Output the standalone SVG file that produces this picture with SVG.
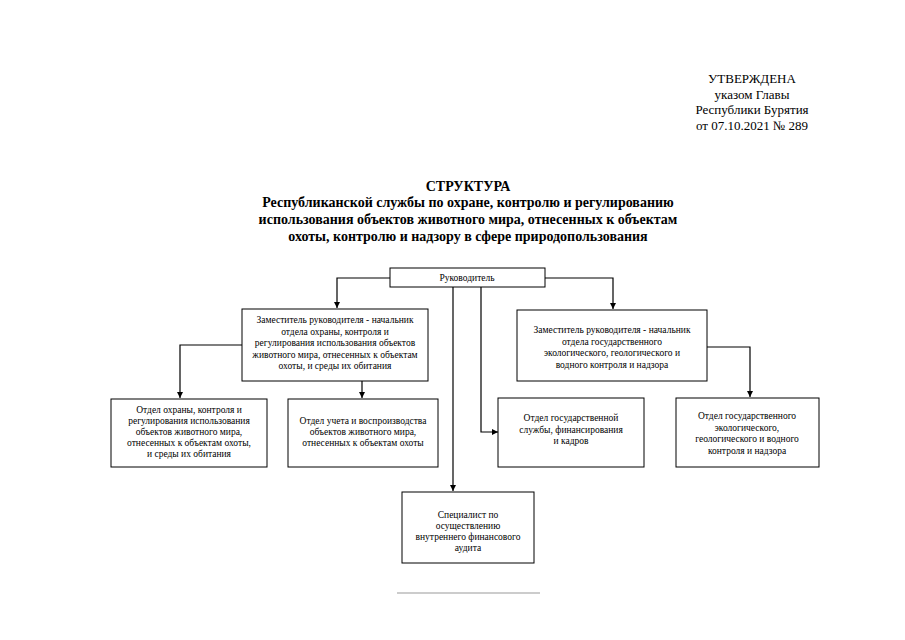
<svg xmlns="http://www.w3.org/2000/svg" width="905" height="640" viewBox="0 0 905 640">
<style>
.hdr{font-size:13px;text-anchor:middle}
.ttl{font-size:14px;font-weight:bold;text-anchor:middle}
.bx{font-size:9.5px;text-anchor:middle}
.box{fill:#fff;stroke:#000;stroke-width:1}
.ln{fill:none;stroke:#000;stroke-width:1.2}
</style>
<defs>
<marker id="ar" viewBox="0 0 10 10" refX="10" refY="5" markerWidth="6" markerHeight="6" orient="auto" markerUnits="userSpaceOnUse">
<path d="M0,0 L10,5 L0,10 z" fill="#000"/>
</marker>
</defs>
<rect width="905" height="640" fill="#fff"/>
<g font-family="'Liberation Serif', 'Times New Roman', 'DejaVu Serif', serif" fill="#000">
<g id="header">
<text class="hdr" x="752" y="83">УТВЕРЖДЕНА</text>
<text class="hdr" x="752" y="99">указом Главы</text>
<text class="hdr" x="752" y="114">Республики Бурятия</text>
<text class="hdr" x="752" y="130">от 07.10.2021 № 289</text>
</g>
<g id="title">
<text class="ttl" x="468" y="191">СТРУКТУРА</text>
<text class="ttl" x="468" y="207">Республиканской службы по охране, контролю и регулированию</text>
<text class="ttl" x="468" y="224">использования объектов животного мира, отнесенных к объектам</text>
<text class="ttl" x="468" y="241">охоты, контролю и надзору в сфере природопользования</text>
</g>
<g id="connectors">
<polyline class="ln" points="390,278 337,278 337,308" marker-end="url(#ar)"/>
<polyline class="ln" points="545,278 613,278 613,309" marker-end="url(#ar)"/>
<polyline class="ln" points="242,345 180,345 180,398" marker-end="url(#ar)"/>
<line class="ln" x1="362" y1="381" x2="362" y2="398" marker-end="url(#ar)"/>
<polyline class="ln" points="707,347 750,347 750,397" marker-end="url(#ar)"/>
<polyline class="ln" points="481,287 481,432 498,432" marker-end="url(#ar)"/>
<line class="ln" x1="453" y1="287" x2="453" y2="491" marker-end="url(#ar)"/>
</g>
<g id="head">
<rect class="box" x="390" y="268" width="155" height="19"/>
<text class="bx" x="467" y="281">Руководитель</text>
</g>
<g id="deputy1">
<rect class="box" x="242" y="309" width="186" height="72"/>
<text class="bx" x="335" y="323">Заместитель руководителя - начальник</text>
<text class="bx" x="335" y="334.5">отдела охраны, контроля и</text>
<text class="bx" x="335" y="346">регулирования использования объектов</text>
<text class="bx" x="335" y="357.5">животного мира, отнесенных к объектам</text>
<text class="bx" x="335" y="369">охоты, и среды их обитания</text>
</g>
<g id="deputy2">
<rect class="box" x="517" y="310" width="190" height="71"/>
<text class="bx" x="612" y="333">Заместитель руководителя - начальник</text>
<text class="bx" x="612" y="344.5">отдела государственного</text>
<text class="bx" x="612" y="356">экологического, геологического и</text>
<text class="bx" x="612" y="367.5">водного контроля и надзора</text>
</g>
<g id="deptA">
<rect class="box" x="111" y="399" width="156" height="68"/>
<text class="bx" x="189" y="413">Отдел охраны, контроля и</text>
<text class="bx" x="189" y="424">регулирования использования</text>
<text class="bx" x="189" y="435">объектов животного мира,</text>
<text class="bx" x="189" y="446">отнесенных к объектам охоты,</text>
<text class="bx" x="189" y="457">и среды их обитания</text>
</g>
<g id="deptB">
<rect class="box" x="288" y="399" width="150" height="68"/>
<text class="bx" x="363" y="424">Отдел учета и воспроизводства</text>
<text class="bx" x="363" y="435">объектов животного мира,</text>
<text class="bx" x="363" y="446">отнесенных к объектам охоты</text>
</g>
<g id="deptC">
<rect class="box" x="498" y="398" width="146" height="69"/>
<text class="bx" x="571" y="421">Отдел государственной</text>
<text class="bx" x="571" y="433">службы, финансирования</text>
<text class="bx" x="571" y="444">и кадров</text>
</g>
<g id="deptD">
<rect class="box" x="676" y="398" width="143" height="69"/>
<text class="bx" x="747" y="419">Отдел государственного</text>
<text class="bx" x="747" y="431">экологического,</text>
<text class="bx" x="747" y="442">геологического и водного</text>
<text class="bx" x="747" y="454">контроля и надзора</text>
</g>
<g id="specialist">
<rect class="box" x="402" y="492" width="132" height="71"/>
<text class="bx" x="468" y="518">Специалист по</text>
<text class="bx" x="468" y="529">осуществлению</text>
<text class="bx" x="468" y="540">внутреннего финансового</text>
<text class="bx" x="468" y="551">аудита</text>
</g>
</g>
<line x1="397" y1="593" x2="540" y2="593" stroke="#999" stroke-width="1"/>
</svg>
